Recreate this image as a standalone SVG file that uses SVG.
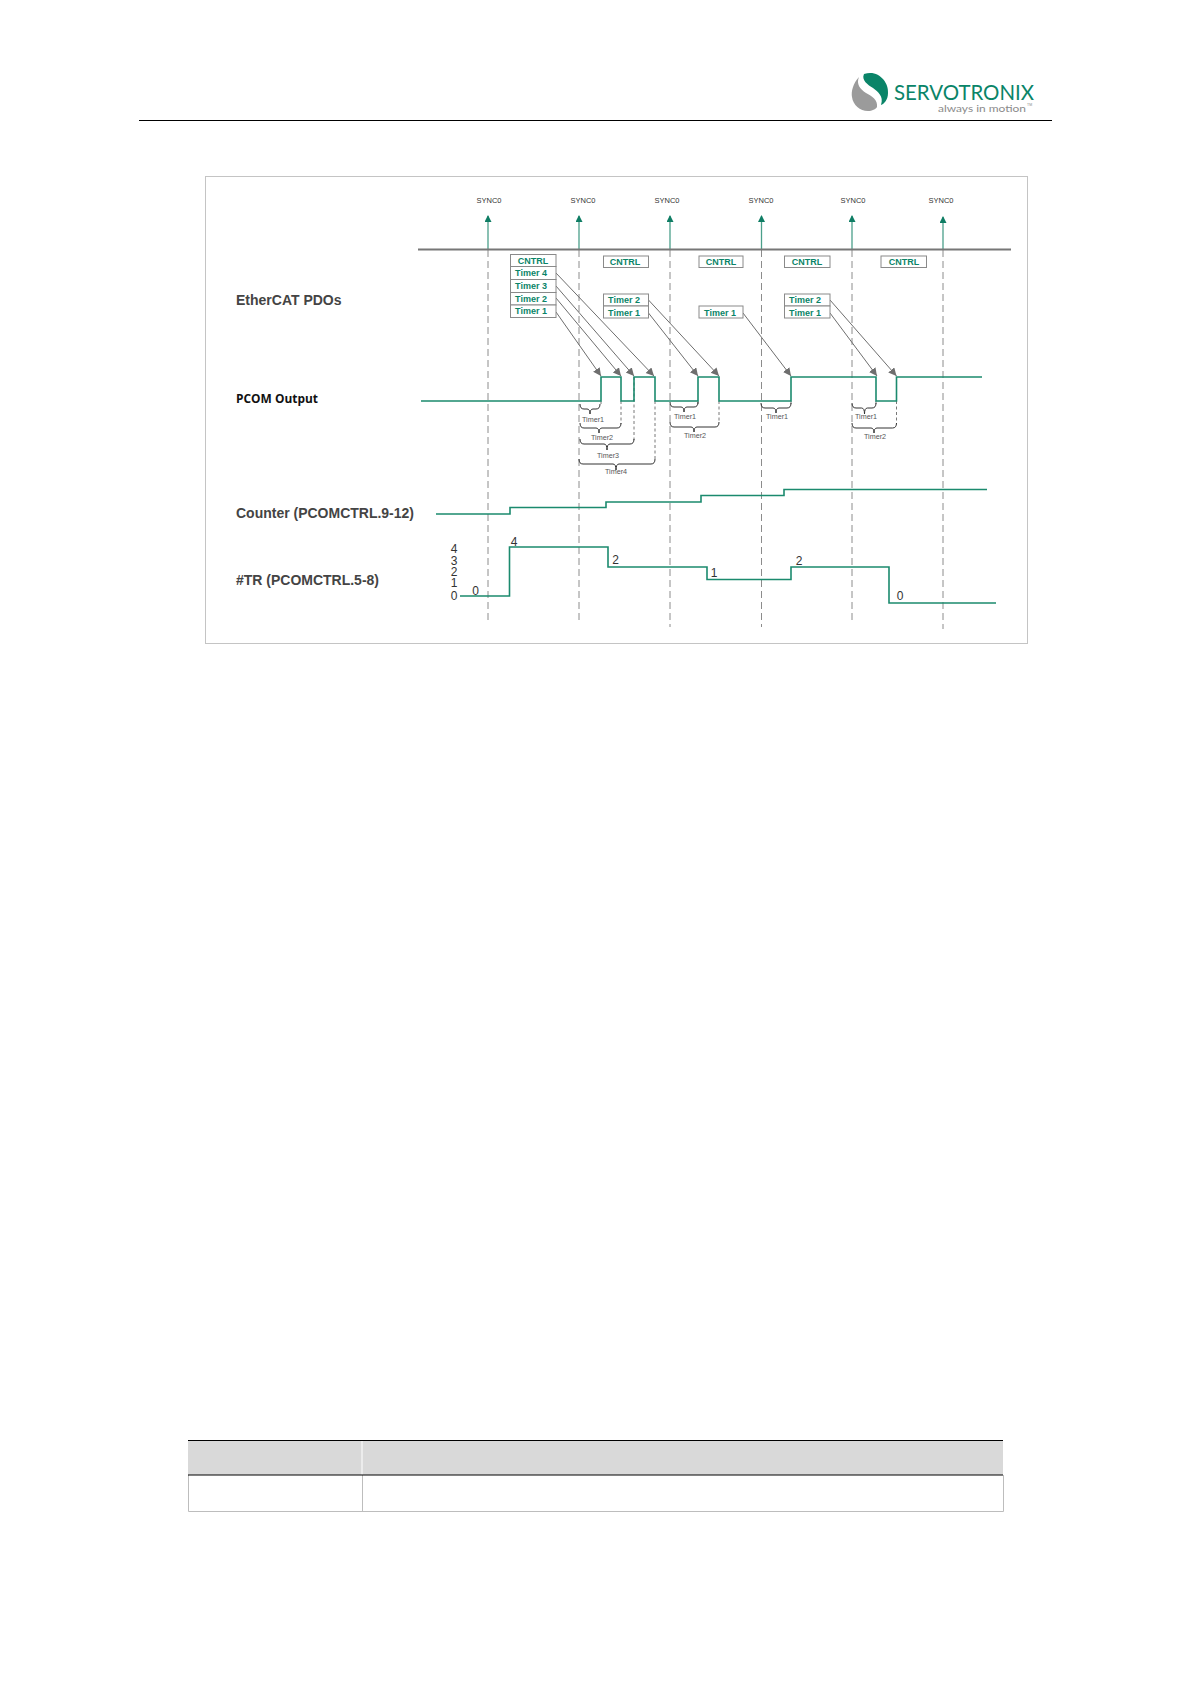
<svg xmlns="http://www.w3.org/2000/svg" width="1191" height="1684" viewBox="0 0 1191 1684">
<style>
text{font-family:"Liberation Sans",Arial,sans-serif}
.sync{font-size:7.5px;fill:#333;text-anchor:middle}
.box{fill:#fff;stroke:#8a8a8a;stroke-width:1}
.pdo{font-size:9px;font-weight:bold;fill:#0a8468;text-anchor:middle}
.lbl{font-size:14px;font-weight:bold;fill:#444}
.dash{fill:none;stroke:#8c8c8c;stroke-width:1;stroke-dasharray:7 4}
.sig{fill:none;stroke:#1b8a6e;stroke-width:1.6}
.arr{fill:none;stroke:#6e6e6e;stroke-width:1;marker-end:url(#ga)}
.syn{fill:none;stroke:#4b9f8a;stroke-width:1.3;marker-end:url(#sa)}
.br{fill:none;stroke:#333;stroke-width:1}
.ext{fill:none;stroke:#555;stroke-width:.8;stroke-dasharray:3 2.5}
.tm{font-size:7.2px;fill:#555;text-anchor:middle}
.num{font-size:12px;fill:#333;text-anchor:middle}
</style>
<defs>
<marker id="ga" markerUnits="userSpaceOnUse" markerWidth="9" markerHeight="9" refX="8" refY="4" orient="auto"><path d="M0,0L8,4L0,8z" fill="#6e6e6e"/></marker>
<marker id="sa" markerUnits="userSpaceOnUse" markerWidth="9" markerHeight="8" refX="6" refY="3.5" orient="auto"><path d="M0,0L7,3.5L0,7z" fill="#0f7d64"/></marker>
</defs>
<rect width="1191" height="1684" fill="#fff"/>

<g id="header">
<path d="M864,74C878,69 889,82 888,93C888,100 884,104 881,105C884,96 878,92 873,88C868,85 861,80 864,74Z" fill="#0a8468"/>
<path d="M859,77C853,83 851,92 852,97C853,105 860,111 868,111C872,111 876,109 877,107C878,100 872,96 866,93C860,89 856,84 859,77Z" fill="#9b9b9b"/>
<text x="894" y="99.500" style="font-family:Lato,'Liberation Sans',sans-serif" font-size="21" fill="#0a8468" textLength="140" lengthAdjust="spacingAndGlyphs">SERVOTRONIX</text>
<text x="938" y="111.500" style="font-family:Lato,'Liberation Sans',sans-serif" font-size="10" fill="#8a8a8a" textLength="88" lengthAdjust="spacingAndGlyphs">always in motion</text>
<text x="1027" y="106" font-size="3.5" fill="#8a8a8a">TM</text>
<path d="M139,120.500H1052" stroke="#000" stroke-width="1.200"/>
</g>

<g id="frame"><rect x="205.500" y="176.500" width="822" height="467" fill="#fff" stroke="#c4c4c4" stroke-width="1"/></g>

<g id="connectors">
<path class="dash" d="M488,250V622M579,250V622M670,250V627M761.500,250V627M852,250V622M943,250V629"/>
<path class="syn" d="M488,249V216"/>
<path class="syn" d="M579,249V216"/>
<path class="syn" d="M670,249V216"/>
<path class="syn" d="M761.500,249V216"/>
<path class="syn" d="M852,249V216"/>
<path class="syn" d="M943,249V217"/>
<path d="M418,249.500H1011" stroke="#777" stroke-width="2.200" fill="none"/>
<path class="arr" d="M556,273L654,376"/>
<path class="arr" d="M556,286L634,376"/>
<path class="arr" d="M556,298L621,376"/>
<path class="arr" d="M556,312L601,376"/>
<path class="arr" d="M648.500,300L719,376"/>
<path class="arr" d="M648.500,313L698,376"/>
<path class="arr" d="M743,313L791,376"/>
<path class="arr" d="M830,300L896.500,376"/>
<path class="arr" d="M830,313L877,376"/>
<path class="ext" d="M601,401V406M621,401V424M634,377V440M655,401V460M698,401V404M719,401V423M791,401V404M876,401V404M896.500,401V424"/>
</g>

<g id="sync-labels">
<text class="sync" x="489" y="202.500">SYNC0</text>
<text class="sync" x="583" y="202.500">SYNC0</text>
<text class="sync" x="667" y="202.500">SYNC0</text>
<text class="sync" x="761" y="202.500">SYNC0</text>
<text class="sync" x="853" y="202.500">SYNC0</text>
<text class="sync" x="941" y="202.500">SYNC0</text>
</g>

<g id="pdo-1">
<rect class="box" x="510.500" y="254.500" width="45.500" height="12"/><text class="pdo" x="533" y="263.500">CNTRL</text>
<rect class="box" x="510.500" y="266.500" width="45.500" height="13"/><text class="pdo" x="531" y="276">Timer 4</text>
<rect class="box" x="510.500" y="279.500" width="45.500" height="13"/><text class="pdo" x="531" y="289">Timer 3</text>
<rect class="box" x="510.500" y="292.500" width="45.500" height="12.500"/><text class="pdo" x="531" y="301.500">Timer 2</text>
<rect class="box" x="510.500" y="305" width="45.500" height="12.500"/><text class="pdo" x="531" y="314">Timer 1</text>
</g>
<g id="pdo-2">
<rect class="box" x="603.500" y="256" width="45" height="11.500"/><text class="pdo" x="625" y="265">CNTRL</text>
<rect class="box" x="603.500" y="294" width="45" height="12"/><text class="pdo" x="624" y="303">Timer 2</text>
<rect class="box" x="603.500" y="306" width="45" height="12"/><text class="pdo" x="624" y="316">Timer 1</text>
</g>
<g id="pdo-3">
<rect class="box" x="699" y="256" width="44" height="11.500"/><text class="pdo" x="721" y="265">CNTRL</text>
<rect class="box" x="699" y="306" width="44" height="12"/><text class="pdo" x="720" y="316">Timer 1</text>
</g>
<g id="pdo-4">
<rect class="box" x="784.500" y="256" width="45.500" height="11.500"/><text class="pdo" x="807" y="265">CNTRL</text>
<rect class="box" x="784.500" y="294" width="45.500" height="12"/><text class="pdo" x="805" y="303">Timer 2</text>
<rect class="box" x="784.500" y="306" width="45.500" height="12"/><text class="pdo" x="805" y="316">Timer 1</text>
</g>
<g id="pdo-5">
<rect class="box" x="881" y="256" width="45.500" height="11.500"/><text class="pdo" x="904" y="265">CNTRL</text>
</g>

<g id="labels">
<text class="lbl" x="236" y="305">EtherCAT PDOs</text>
<text x="236" y="403" font-size="12.500" font-weight="bold" fill="#111" style="font-family:'Open Sans','Liberation Sans',sans-serif" textLength="82" lengthAdjust="spacingAndGlyphs">PCOM Output</text>
<text class="lbl" x="236" y="518" textLength="178" lengthAdjust="spacingAndGlyphs">Counter (PCOMCTRL.9-12)</text>
<text class="lbl" x="236" y="585" textLength="143" lengthAdjust="spacingAndGlyphs">#TR (PCOMCTRL.5-8)</text>
</g>

<g id="pcom-output"><path class="sig" d="M421,401H601V377H621V401H634V377H655V401H698V377H719V401H791V377H876V401H896.500V377H982"/></g>
<g id="counter"><path class="sig" d="M436,514H510V507.500H606V502H701V495.500H784V489.500H987"/></g>
<g id="tr"><path class="sig" d="M460,596H509.500V547H608V567H707V579.500H791V567H889V603H996"/></g>

<g id="tr-values">
<text class="num" x="454" y="553">4</text><text class="num" x="454" y="565">3</text><text class="num" x="454" y="576">2</text><text class="num" x="454" y="587">1</text><text class="num" x="454" y="600">0</text>
<text class="num" x="475.500" y="595">0</text><text class="num" x="514" y="546">4</text><text class="num" x="615.500" y="564">2</text><text class="num" x="714" y="577">1</text><text class="num" x="799" y="565">2</text><text class="num" x="900" y="600">0</text>
</g>

<g id="brace-1">
<path class="br" d="M580,404Q580,409 584,409H587Q590,409 590,414Q590,409 593,409H596Q600,409 600,404"/><text class="tm" x="593" y="422">Timer1</text>
<path class="br" d="M580,423Q580,428 584,428H596Q599,428 599,433Q599,428 602,428H617Q621,428 621,423"/><text class="tm" x="602" y="440">Timer2</text>
<path class="br" d="M580,439Q580,444 584,444H604Q607,444 607,450Q607,444 610,444H630Q634,444 634,439"/><text class="tm" x="608" y="458">Timer3</text>
<path class="br" d="M579,459Q579,464 583,464H613Q616,464 616,470Q616,464 619,464H651Q655,464 655,459"/><text class="tm" x="616" y="474">Timer4</text>
</g>
<g id="brace-2">
<path class="br" d="M670,402Q670,407 674,407H681Q684,407 684,412Q684,407 687,407H694Q698,407 698,402"/><text class="tm" x="685" y="419">Timer1</text>
<path class="br" d="M670,422Q670,427 674,427H691Q694,427 694,432Q694,427 697,427H715Q719,427 719,422"/><text class="tm" x="695" y="438">Timer2</text>
</g>
<g id="brace-3">
<path class="br" d="M761,403Q761,408 765,408H773Q776,408 776,413Q776,408 779,408H787Q791,408 791,403"/><text class="tm" x="777" y="419">Timer1</text>
</g>
<g id="brace-4">
<path class="br" d="M852,403Q852,408 856,408H861.500Q864.500,408 864.500,414Q864.500,408 867.500,408H872Q876,408 876,403"/><text class="tm" x="866" y="419">Timer1</text>
<path class="br" d="M852,423Q852,428 856,428H871Q874,428 874,433Q874,428 877,428H892.500Q896.500,428 896.500,423"/><text class="tm" x="875" y="439">Timer2</text>
</g>

<g id="table">
<rect x="188" y="1440" width="815" height="35" fill="#d9d9d9"/>
<path d="M362,1441V1475" stroke="#fff" stroke-width="1"/>
<path d="M188.500,1475V1511.500H1003.500V1475M362.500,1475V1511.500" fill="none" stroke="#bdbdbd" stroke-width="1"/>
<path d="M188,1440.500H1003M188,1475H1003" fill="none" stroke="#000" stroke-width="1"/>
</g>
</svg>
